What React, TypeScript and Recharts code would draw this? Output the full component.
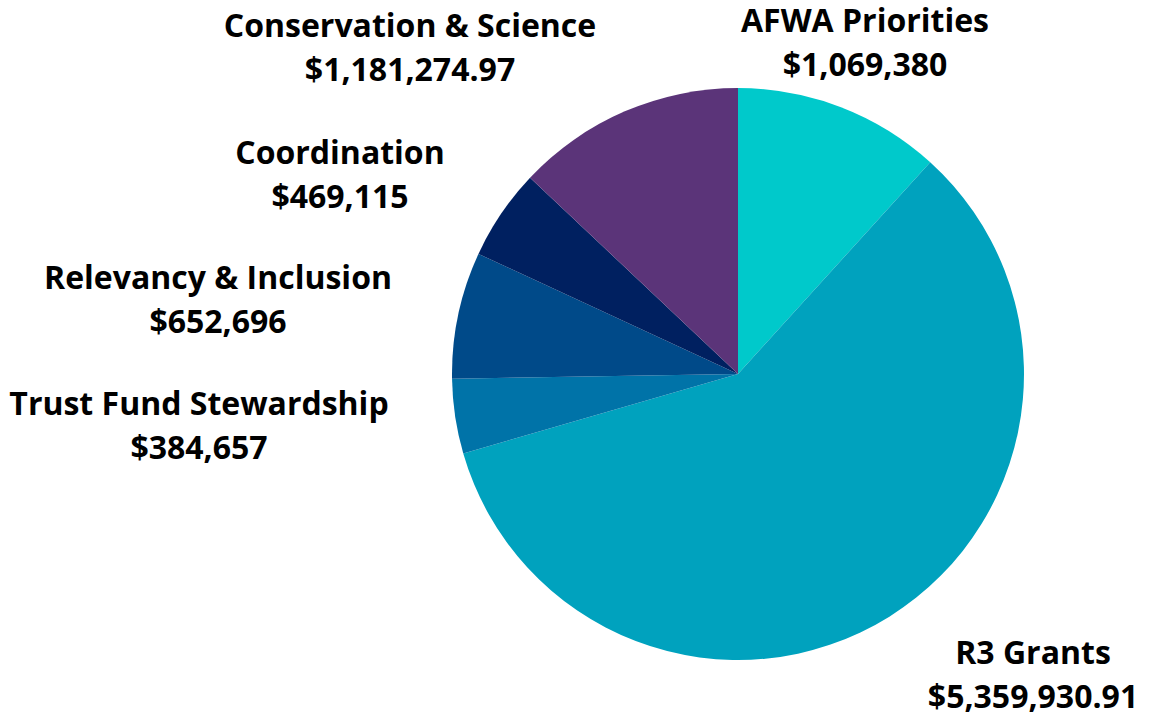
import { Cell, Pie, PieChart } from "recharts";

const names = [
  "AFWA Priorities",
  "R3 Grants",
  "Trust Fund Stewardship",
  "Relevancy & Inclusion",
  "Coordination",
  "Conservation & Science",
];
const amounts = [1069380, 5359930.91, 384657, 652696, 469115, 1181274.97];
const amountLabels = [
  "$1,069,380",
  "$5,359,930.91",
  "$384,657",
  "$652,696",
  "$469,115",
  "$1,181,274.97",
];
const colors = ["#00C9CB", "#00A2BE", "#0073A8", "#004A89", "#002060", "#5B3479"];

const data = names.map((name, i) => ({ name, value: amounts[i] }));

// where each two-line label sits (center x, baseline of first line)
const labelAt = [
  { x: 865, y: 32 },
  { x: 1033, y: 664 },
  { x: 199, y: 415 },
  { x: 218, y: 289 },
  { x: 340, y: 164 },
  { x: 410, y: 37 },
];

function renderLabel(props: any) {
  const p = labelAt[props.index];
  return (
    <g>
      <text x={p.x} y={p.y} textAnchor="middle" fill="#000" fontSize={32} fontWeight={700}>
        {names[props.index]}
      </text>
      <text x={p.x} y={p.y + 44} textAnchor="middle" fill="#000" fontSize={32} fontWeight={700}>
        {amountLabels[props.index]}
      </text>
    </g>
  );
}

export default function App() {
  return (
    <div
      style={{
        position: "absolute",
        left: 0,
        top: 0,
        width: 1159,
        height: 716,
        background: "#fff",
        fontFamily: "'Open Sans', sans-serif",
      }}
    >
      <PieChart width={1159} height={716} margin={{ top: 0, right: 0, bottom: 0, left: 0 }}>
        <Pie
          data={data}
          dataKey="value"
          nameKey="name"
          cx={738}
          cy={374}
          outerRadius={286}
          startAngle={90}
          endAngle={-270}
          stroke="none"
          label={renderLabel}
          labelLine={false}
          isAnimationActive={false}
        >
          {data.map((d, i) => (
            <Cell key={d.name} fill={colors[i]} />
          ))}
        </Pie>
      </PieChart>
    </div>
  );
}
